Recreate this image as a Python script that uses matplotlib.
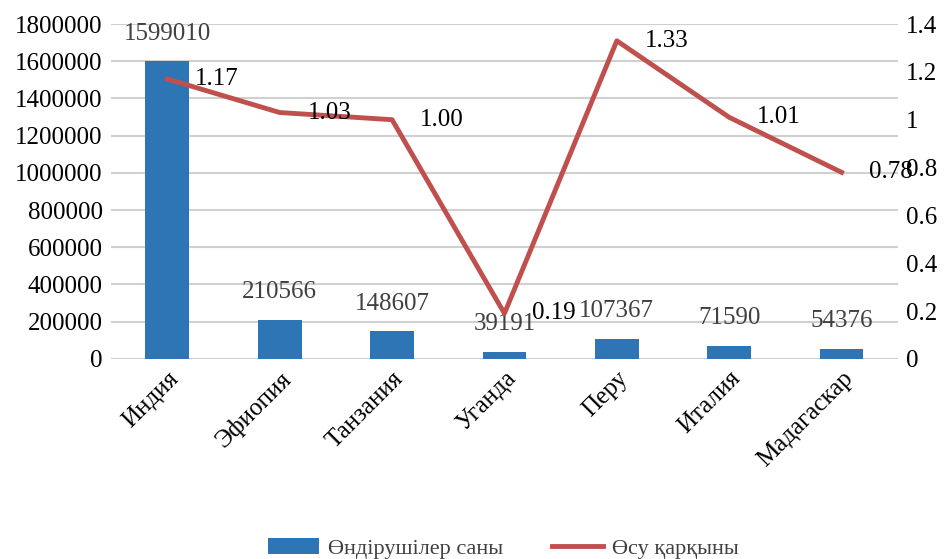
import numpy as np
import matplotlib.pyplot as plt

countries = ['Индия', 'Эфиопия', 'Танзания', 'Уганда', 'Перу', 'Италия', 'Мадагаскар']
producers = [1599010, 210566, 148607, 39191, 107367, 71590, 54376]
growth = [1.17, 1.03, 1.00, 0.19, 1.33, 1.01, 0.78]
growth_labels = ['1.17', '1.03', '1.00', '0.19', '1.33', '1.01', '0.78']

plt.rcParams['font.family'] = ['Liberation Serif', 'DejaVu Serif']

def draw():
  fig = plt.figure(figsize=(9.5, 5.59), dpi=100)
  ax = fig.add_axes([0.117, 0.358, 0.828, 0.599])
  x = np.arange(len(countries))
  ax.bar(x, producers, width=0.39, color='#2E75B6', label='Өндірушілер саны', zorder=2)
  ax.set_ylim(0, 1800000)
  ax.set_yticks(np.arange(0, 1800001, 200000))
  ax.set_yticklabels([str(v) for v in range(0, 1800001, 200000)])
  ax.set_xlim(-0.5, len(countries) - 0.5)
  ax.grid(axis='y', color='#d0d0d0', linewidth=1.5, zorder=0)
  ax.set_axisbelow(True)
  for s in ax.spines.values():
    s.set_visible(False)
  ax.tick_params(length=0, labelsize=18, pad=6)
  ax.set_xticks(x)
  ax.set_xticklabels(countries, rotation=45, ha='right', rotation_mode='anchor')
  for xi, v in zip(x, producers):
    ax.annotate(str(v), (xi, v), xytext=(0, 12), textcoords='offset points',
                ha='center', va='bottom', fontsize=18, color='#404040')

  ax2 = ax.twinx()
  ax2.plot(x, growth, color='#C0504D', linewidth=3.5, label='Өсу қарқыны', zorder=3)
  ax2.set_ylim(0, 1.4)
  ax2.set_yticks(np.arange(0, 1.41, 0.2))
  ax2.set_yticklabels(['0', '0.2', '0.4', '0.6', '0.8', '1', '1.2', '1.4'])
  for s in ax2.spines.values():
    s.set_visible(False)
  ax2.tick_params(length=0, labelsize=18, pad=6)
  for xi, v, t in zip(x, growth, growth_labels):
    ax2.annotate(t, (xi, v), xytext=(20, 0), textcoords='offset points',
                 ha='left', va='center', fontsize=18, color='black')

  h1, l1 = ax.get_legend_handles_labels()
  h2, l2 = ax2.get_legend_handles_labels()
  fig.legend(h1 + h2, l1 + l2, loc='lower center', bbox_to_anchor=(0.53, -0.035),
             ncol=2, frameon=False, fontsize=16, handlelength=2.3, columnspacing=2.2,
             handletextpad=0.4, labelcolor='#404040')
  fig.savefig('out.png', dpi=100)

if __name__ == '__main__':
  draw()
